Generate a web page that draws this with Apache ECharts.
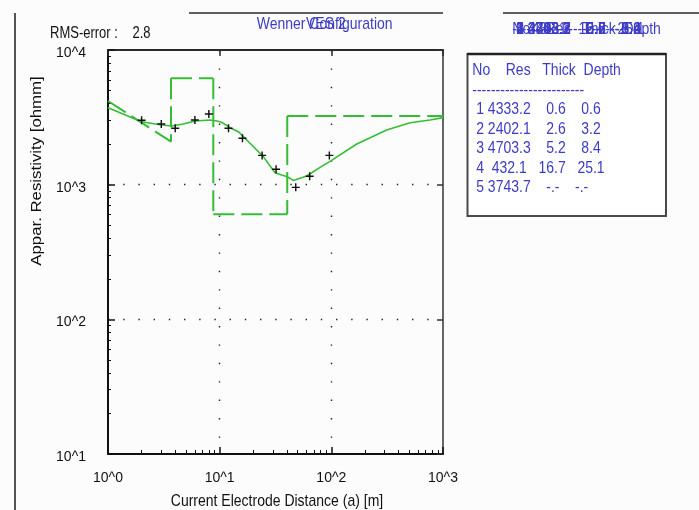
<!DOCTYPE html>
<html>
<head>
<meta charset="utf-8">
<script src="https://cdn.jsdelivr.net/npm/echarts@6/dist/echarts.min.js"></script>
<style>
  html, body { margin: 0; padding: 0; background: #fcfcfc; }
  #chart { width: 699px; height: 510px; }
</style>
</head>
<body>
<div id="chart"></div>
<script>
// Tick labels of the two logarithmic axes
const xTickLabels = ['10^0', '10^1', '10^2', '10^3'];
const yTickLabels = ['10^1', '10^2', '10^3', '10^4'];

// Field sounding: electrode spacing a [m] and apparent resistivity [ohmm]
const spacing  = [2, 3, 4, 6, 8, 12, 16, 24, 32, 48, 64, 96];
const measured = [3010, 2820, 2620, 3020, 3350, 2620, 2210, 1650, 1300, 955, 1155, 1650];

// Computed response of the fitted model
const curveX = [1, 2, 3.03, 3.72, 4.72, 6.01, 8.19, 9.47, 10.4, 12.4, 14.7, 18.7, 24.6, 31.3, 35.9, 40.3, 45.6, 60.2, 79.2, 97.3, 169, 313, 506, 765, 1000];
const curveY = [3730, 2935, 2775, 2725, 2820, 2970, 3020, 2970, 2905, 2650, 2475, 2030, 1615, 1225, 1180, 1145, 1075, 1160, 1345, 1490, 2005, 2545, 2885, 3020, 3145];

// Layered model outline (step line)
const modelX = [1, 3.666, 3.666, 8.77, 8.77, 40.3, 40.3, 1000];
const modelY = [4181, 2085, 6165, 6165, 603, 603, 3235, 3235];

// Layer table
const layerNo    = ['1', '2', '3', '4', '5'];
const layerRes   = ['4333.2', '2402.1', '4703.3', '432.1', '3743.7'];
const layerThick = ['0.6', '2.6', '5.2', '16.7', '-.-'];
const layerDepth = ['0.6', '3.2', '8.4', '25.1', '-.-'];
const tableHeader = 'No    Res   Thick  Depth';
const tableRule = '------------------------';

const titleText = 'Wenner Configuration';
const titleOverlay = 'VES 2';
const rmsLabel = 'RMS-error :';
const rmsValue = '2.8';
const xName = 'Current Electrode Distance (a) [m]';
const yName = 'Appar. Resistivity [ohmm]';

const FONT = "'Liberation Sans', Arial, sans-serif";
const BLUE = '#3c3cc6';
const GREEN = '#34be34';
const INK = '#111';
const STRETCH = 1.15;

const rowStrings = layerNo.map((n, i) =>
  ' ' + n + layerRes[i].padStart(7) + layerThick[i].padStart(7) + layerDepth[i].padStart(7));

// model outline: each segment drawn on its own, horizontals left-to-right, verticals top-down
const modelSeries = [];
for (let i = 0; i < modelX.length - 1; i++) {
  let a = [modelX[i], modelY[i]];
  let b = [modelX[i + 1], modelY[i + 1]];
  if (a[0] === b[0] && b[1] > a[1]) { const t = a; a = b; b = t; }
  modelSeries.push({
    type: 'line',
    data: [a, b],
    showSymbol: false,
    silent: true,
    lineStyle: { color: GREEN, width: 2, type: [21, 7] },
    z: 3
  });
}

function txt(x, y, text, style, extra) {
  return Object.assign({
    type: 'text', x: x, y: y, silent: true,
    scaleY: STRETCH,
    style: Object.assign({
      text: text, fill: INK, fontSize: 14, fontFamily: FONT,
      align: 'left', verticalAlign: 'middle'
    }, style)
  }, extra);
}

const graphics = [
  // window edges
  { type: 'line', silent: true, shape: { x1: 15, y1: 13, x2: 15, y2: 510 }, style: { stroke: '#2a2a2a', lineWidth: 1.6 } },
  { type: 'line', silent: true, shape: { x1: 189, y1: 13, x2: 443, y2: 13 }, style: { stroke: '#2a2a2a', lineWidth: 1.5 } },
  { type: 'line', silent: true, shape: { x1: 503, y1: 13, x2: 699, y2: 13 }, style: { stroke: '#2a2a2a', lineWidth: 1.5 } },
  // layer table frame
  { type: 'rect', silent: true, shape: { x: 467.5, y: 54, width: 198.5, height: 162 },
    style: { fill: '#ffffff', stroke: '#4a4a4a', lineWidth: 2 } },
  { type: 'line', silent: true, shape: { x1: 467, y1: 54, x2: 666, y2: 54 }, style: { stroke: '#222', lineWidth: 2.5 } },
  txt(50, 34, rmsLabel, { fontSize: 13 }, { scaleY: 1.2 }),
  txt(132.5, 34, rmsValue, { fontSize: 13 }, { scaleY: 1.2 }),
  txt(256.7, 25, titleText, { fill: BLUE }),
  txt(306, 25, titleOverlay, { fill: BLUE }),
  txt(472.3, 71, tableHeader, { fill: BLUE }),
  txt(472.3, 91, tableRule, { fill: BLUE }),
  txt(512.3, 30, tableHeader, { fill: BLUE }),
  txt(512.3, 30, tableRule, { fill: BLUE }),
  txt(277, 502, xName, { align: 'center' }),
  {
    type: 'text', silent: true, x: 36.5, y: 171, rotation: Math.PI / 2, scaleX: 1.2, scaleY: 1.05,
    style: { text: yName, fill: INK, fontSize: 14, fontFamily: FONT, align: 'center', verticalAlign: 'middle' }
  }
];
rowStrings.forEach((s, i) => {
  graphics.push(txt(472.3, 110 + i * 19.5, s, { fill: BLUE }));
  graphics.push(txt(512.3, 30, s, { fill: BLUE }));
});

const chart = echarts.init(document.getElementById('chart'), null, { renderer: 'canvas' });
chart.setOption({
  animation: false,
  backgroundColor: '#fcfcfc',
  grid: { left: 108, right: 256, top: 50, bottom: 56, containLabel: false },
  xAxis: [
    {
      type: 'log', logBase: 10, min: 1, max: 1000, position: 'bottom',
      axisLine: { lineStyle: { color: INK, width: 2 } },
      axisTick: { inside: true, length: 7, lineStyle: { color: INK, width: 1.5 } },
      minorTick: { show: true, splitNumber: 9, length: 4, lineStyle: { color: INK, width: 1 } },
      axisLabel: {
        margin: 17, color: INK, fontSize: 14, fontFamily: FONT,
        formatter: v => xTickLabels[Math.round(Math.log10(v))]
      },
      splitLine: { show: true, showMinLine: false, showMaxLine: false,
        lineStyle: { color: '#222', width: 1.4, type: [1.4, 17] } }
    },
    {
      type: 'log', logBase: 10, min: 1, max: 1000, position: 'top',
      axisLine: { lineStyle: { color: '#2a2a2a', width: 2 } },
      axisTick: { inside: true, length: 6, lineStyle: { color: '#2a2a2a', width: 1.5 } },
      axisLabel: { show: false },
      splitLine: { show: false }
    }
  ],
  yAxis: [
    {
      type: 'log', logBase: 10, min: 10, max: 10000, position: 'left',
      axisLine: { lineStyle: { color: INK, width: 2 } },
      axisTick: { inside: true, length: 7, lineStyle: { color: INK, width: 1.5 } },
      minorTick: { show: true, splitNumber: 9, length: 3, lineStyle: { color: INK, width: 1 } },
      axisLabel: {
        margin: 22, color: INK, fontSize: 14, fontFamily: FONT,
        verticalAlign: 'top', lineHeight: 6,
        formatter: v => yTickLabels[Math.round(Math.log10(v)) - 1]
      },
      splitLine: { show: true, showMinLine: false, showMaxLine: false,
        lineStyle: { color: '#222', width: 1.4, type: [1.4, 13.8] } }
    },
    {
      type: 'log', logBase: 10, min: 10, max: 10000, position: 'right',
      axisLine: { lineStyle: { color: '#666', width: 2 } },
      axisTick: { inside: true, length: 6, lineStyle: { color: '#333', width: 1.5 } },
      axisLabel: { show: false },
      splitLine: { show: false }
    }
  ],
  series: [
    {
      type: 'line',
      data: curveX.map((x, i) => [x, curveY[i]]),
      showSymbol: false,
      silent: true,
      lineStyle: { color: GREEN, width: 1.6 },
      z: 3
    },
    ...modelSeries,
    {
      type: 'scatter',
      data: spacing.map((x, i) => [x, measured[i]]),
      symbol: 'path://M4.1,0H5.9V4.1H10V5.9H5.9V10H4.1V5.9H0V4.1H4.1Z',
      symbolSize: 8,
      itemStyle: { color: INK, opacity: 1 },
      silent: true,
      z: 4
    }
  ],
  graphic: graphics
});
</script>
</body>
</html>
